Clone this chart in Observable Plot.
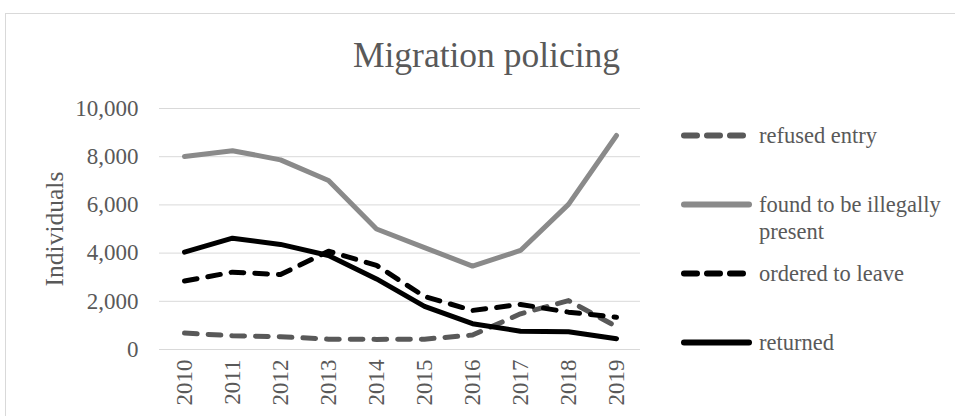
<!DOCTYPE html>
<html>
<head>
<meta charset="utf-8">
<script src="https://cdn.jsdelivr.net/npm/d3@7"></script>
<script src="https://cdn.jsdelivr.net/npm/@observablehq/plot@0.6"></script>
<style>
  body { margin: 0; width: 955px; height: 416px; position: relative; overflow: hidden; background: #fff;
         font-family: "Liberation Serif", "DejaVu Serif", serif; color: #595959; }
  #frame { position: absolute; left: 5px; top: 13px; width: 960px; height: 420px; border: 1px solid #d9d9d9; box-sizing: border-box; }
  #title { position: absolute; left: 0; width: 973px; top: 38px; text-align: center; font-size: 35.5px; line-height: 35px; }
  #chart { position: absolute; left: 0; top: 80px; }
  .item { position: absolute; left: 678px; display: flex; align-items: flex-start; font-size: 22.5px; line-height: 27px; }
  .item svg { margin-top: 7px; margin-right: 3px; flex: none; }
  .item span { width: 195px; }
</style>
</head>
<body>
<div id="frame"></div>
<div id="title">Migration policing</div>
<div id="chart"></div>
<div id="legend"></div>
<script>
// ---- data ----
const years = [2010, 2011, 2012, 2013, 2014, 2015, 2016, 2017, 2018, 2019];
const refusedEntry = [680, 570, 530, 430, 420, 430, 600, 1480, 2030, 950];
const foundIllegallyPresent = [8010, 8250, 7870, 7010, 5000, 4230, 3460, 4110, 6020, 8880];
const orderedToLeave = [2840, 3210, 3110, 4080, 3490, 2200, 1620, 1870, 1550, 1340];
const returned = [4040, 4620, 4360, 3900, 2930, 1790, 1070, 760, 740, 450];
const seriesNames = ["refused entry", "found to be illegally present", "ordered to leave", "returned"];
const yTicks = [0, 2000, 4000, 6000, 8000, 10000];

// ---- styles ----
const styles = {
  "refused entry": {stroke: "#595959", dash: true},
  "found to be illegally present": {stroke: "#8a8a8a", dash: false},
  "ordered to leave": {stroke: "#000000", dash: true},
  "returned": {stroke: "#000000", dash: false}
};

const seriesValues = [refusedEntry, foundIllegallyPresent, orderedToLeave, returned];
const table = seriesNames.map((name, s) => years.map((year, i) => ({series: name, year, value: seriesValues[s][i]})));

const lineMarks = table.map((rows, s) => {
  const st = styles[seriesNames[s]];
  return Plot.line(rows, {
    x: "year", y: "value", stroke: st.stroke, strokeWidth: 5,
    strokeDasharray: st.dash ? "12.7,11" : null, strokeLinecap: "round", strokeLinejoin: "round"
  });
});

const chart = Plot.plot({
  width: 660,
  height: 336,
  marginLeft: 159,
  marginRight: 20,
  marginTop: 28,
  marginBottom: 67,
  style: {fontFamily: '"Liberation Serif", serif', color: "#595959", background: "transparent", overflow: "visible"},
  x: {type: "point", domain: years, padding: 0.5},
  y: {domain: [0, 10000]},
  marks: [
    Plot.gridY(yTicks, {stroke: "#d9d9d9", strokeOpacity: 1, strokeWidth: 1}),
    Plot.axisY(yTicks, {tickSize: 0, tickPadding: 21, tickFormat: d3.format(","), fontSize: 23, fill: "#595959", label: null}),
    Plot.axisX({tickRotate: -90, tickSize: 0, tickPadding: 10, tickFormat: d => String(d), fontSize: 23, fill: "#595959", label: null}),
    Plot.text(["Individuals"], {frameAnchor: "left", textAnchor: "middle", rotate: -90, dx: -105, fontSize: 25.5, fill: "#595959"}),
    ...lineMarks
  ]
});
document.getElementById("chart").appendChild(chart);

// ---- legend ----
const legendRows = [135, 204, 273, 342];
const legend = document.getElementById("legend");
seriesNames.forEach((name, i) => {
  const st = styles[name];
  const item = document.createElement("div");
  item.className = "item";
  item.style.top = (legendRows[i] - 13.5) + "px";
  const ns = "http://www.w3.org/2000/svg";
  const svg = document.createElementNS(ns, "svg");
  svg.setAttribute("width", 78);
  svg.setAttribute("height", 13);
  const ln = document.createElementNS(ns, "line");
  ln.setAttribute("x1", 6); ln.setAttribute("x2", 71);
  ln.setAttribute("y1", 6.5); ln.setAttribute("y2", 6.5);
  ln.setAttribute("stroke", st.stroke);
  ln.setAttribute("stroke-width", 6);
  ln.setAttribute("stroke-linecap", "round");
  if (st.dash) ln.setAttribute("stroke-dasharray", "13,10");
  svg.appendChild(ln);
  const span = document.createElement("span");
  span.textContent = name;
  item.appendChild(svg);
  item.appendChild(span);
  legend.appendChild(item);
});
</script>
</body>
</html>
